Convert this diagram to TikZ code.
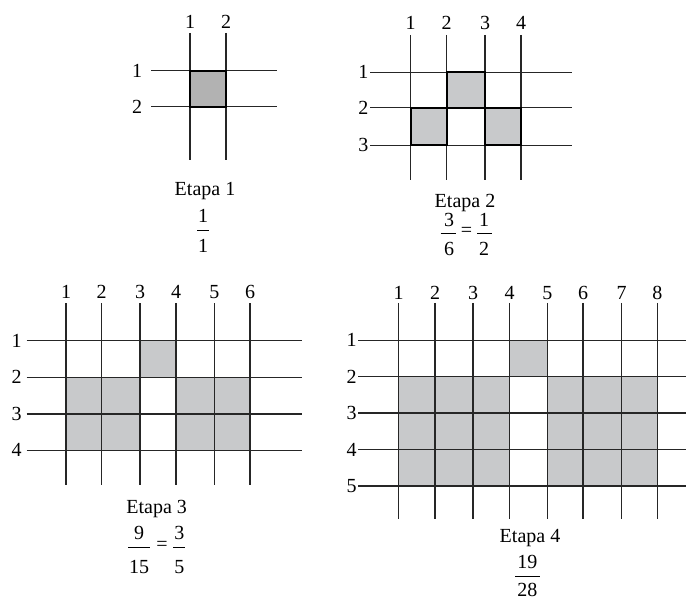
\documentclass[tikz,border=0pt]{standalone}
\usepackage{fontspec}
\setmainfont{Liberation Serif}
\definecolor{darkcell}{HTML}{B2B2B2}
\definecolor{lightcell}{HTML}{C8C9CB}
\begin{document}
\begin{tikzpicture}[x=1pt,y=-1pt,
  gridline/.style={line width=1.5pt,black!85},
  cellbox/.style={line width=2pt,draw=black},
  lbl/.style={inner sep=0pt,font=\fontsize{20}{22}\selectfont},
  fracbar/.style={line width=1pt}]
\useasboundingbox (0,0) rectangle (686,601);
% ---------------- Etapa 1
\foreach \y [count=\i] in {70.7,106.7} {
  \draw[gridline] (151,\y) -- (276.7,\y);
  \node[lbl] (r1\i) at (137,\y) {\i};
}
\foreach \x [count=\i] in {190,226} {
  \draw[gridline] (\x,33) -- (\x,160);
  \node[lbl] (c1\i) at (\x,21.7) {\i};
}
\filldraw[cellbox,fill=darkcell] (190,70.7) rectangle (226,106.7);
\node[lbl,anchor=base] (e1) at (205,196) {Etapa 1};
\node[lbl] (n1) at (203,216) {1};
\draw[fracbar] (197,231) -- (209,231);
\node[lbl] (d1) at (203,246) {1};
% ---------------- Etapa 2
\foreach \y [count=\i] in {72.3,107.7,145.3} {
  \draw[gridline] (370,\y) -- (571.7,\y);
  \node[lbl] (r2\i) at (363.3,\y) {\i};
}
\foreach \x [count=\i] in {410.7,446.7,485,521} {
  \draw[gridline] (\x,35) -- (\x,180);
  \node[lbl] (c2\i) at (\x,23) {\i};
}
\filldraw[cellbox,fill=lightcell] (446.7,72.3) rectangle (485,107.7);
\filldraw[cellbox,fill=lightcell] (410.7,107.7) rectangle (446.7,145.3);
\filldraw[cellbox,fill=lightcell] (485,107.7) rectangle (521,145.3);
\node[lbl,anchor=base] (e2) at (465,207.3) {Etapa 2};
\node[lbl] (n2a) at (449,220) {3};
\draw[fracbar] (440.7,234) -- (456,234);
\node[lbl] (d2a) at (449,249) {6};
\node[lbl] (eq2) at (466.5,232) {=};
\node[lbl] (n2b) at (484,220) {1};
\draw[fracbar] (477,234) -- (491.7,234);
\node[lbl] (d2b) at (484,249) {2};
% ---------------- Etapa 3
\fill[lightcell] (140,340.7) rectangle (176,377.3);
\fill[lightcell] (66,377.3) rectangle (140,450.3);
\fill[lightcell] (176,377.3) rectangle (250,450.3);
\foreach \y [count=\i] in {340.7,377.3,414,450.3} {
  \draw[gridline] (26.7,\y) -- (301.7,\y);
  \node[lbl] (r3\i) at (16.7,\y) {\i};
}
\foreach \x [count=\i] in {66,101.7,140,176,214.3,250} {
  \draw[gridline] (\x,303.3) -- (\x,485);
  \node[lbl] (c3\i) at (\x,291.7) {\i};
}
\node[lbl,anchor=base] (e3) at (156.7,513.3) {Etapa 3};
\node[lbl] (n3a) at (139,533) {9};
\draw[fracbar] (128,547.7) -- (150,547.7);
\node[lbl] (d3a) at (139,567) {15};
\node[lbl] (eq3) at (162,546) {=};
\node[lbl] (n3b) at (179.3,533) {3};
\draw[fracbar] (173,547.7) -- (185,547.7);
\node[lbl] (d3b) at (179.3,567) {5};
% ---------------- Etapa 4
\fill[lightcell] (509.7,340.3) rectangle (547.3,376.7);
\fill[lightcell] (398.7,376.7) rectangle (509.7,486);
\fill[lightcell] (547.3,376.7) rectangle (657.3,486);
\foreach \y [count=\i] in {340.3,376.7,413,449.7,486} {
  \draw[gridline] (358.3,\y) -- (686,\y);
  \node[lbl] (r4\i) at (351.7,\y) {\i};
}
\foreach \x [count=\i] in {398.7,435,473,509.7,547.3,583,621.7,657.3} {
  \draw[gridline] (\x,303) -- (\x,519.3);
  \node[lbl] (c4\i) at (\x,293.3) {\i};
}
\node[lbl,anchor=base] (e4) at (530,542.7) {Etapa 4};
\node[lbl] (n4) at (527.3,562) {19};
\draw[fracbar] (515,576.7) -- (540,576.7);
\node[lbl] (d4) at (527.3,590) {28};
\end{tikzpicture}
\end{document}
